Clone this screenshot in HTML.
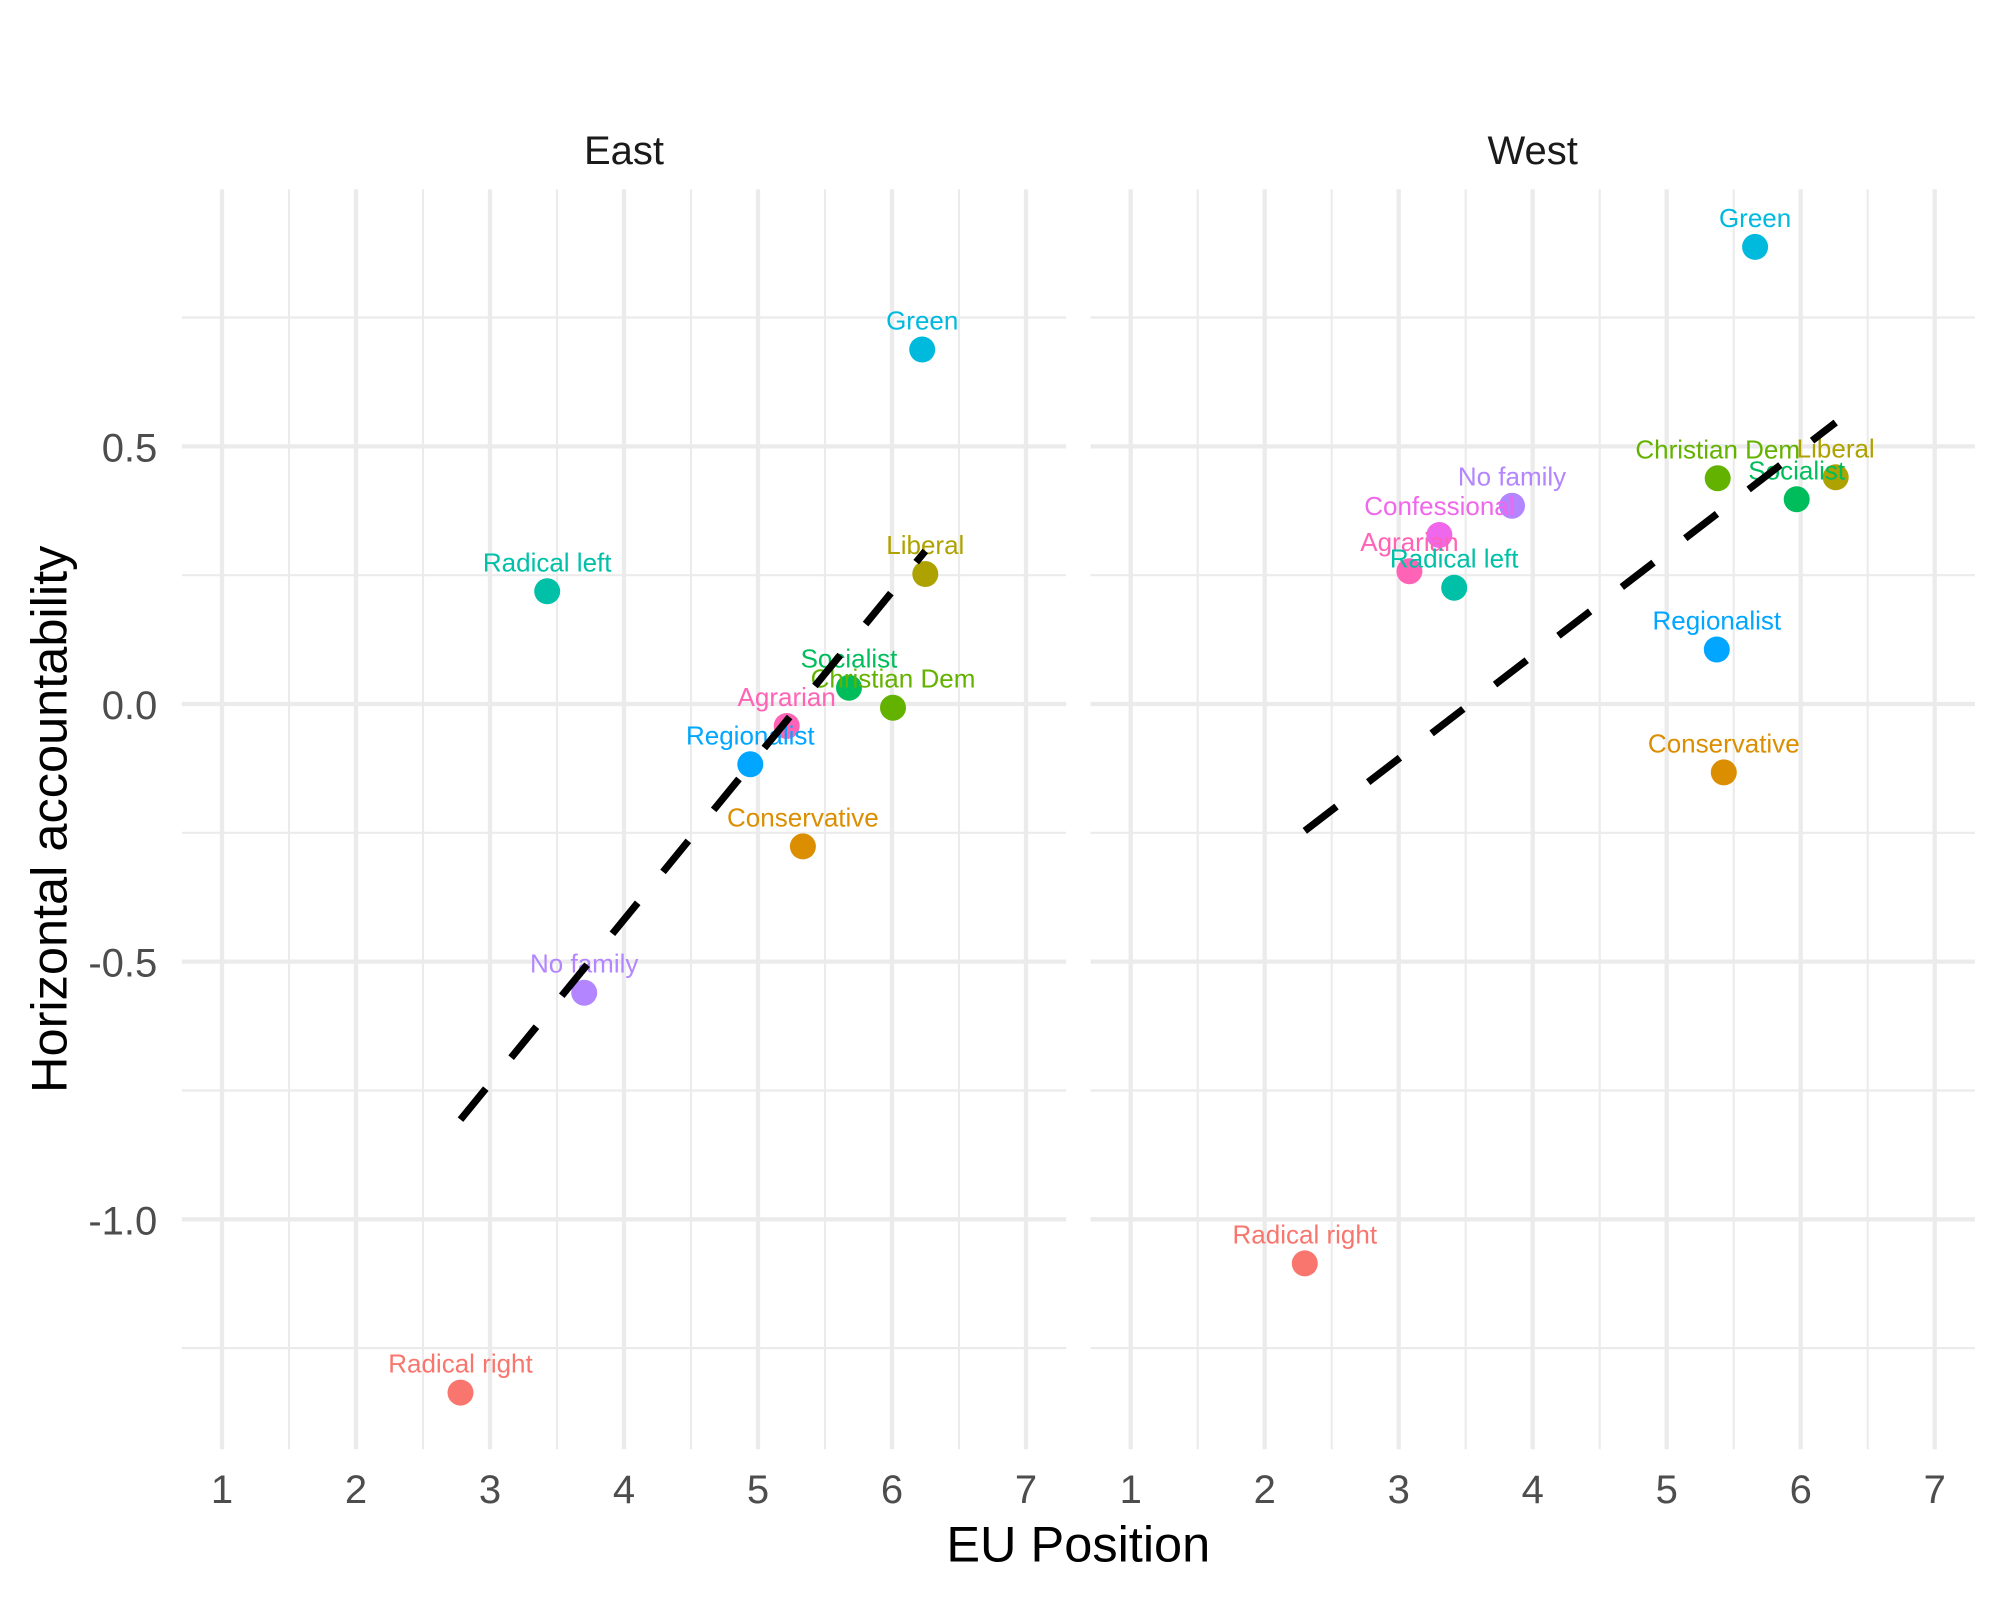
<!DOCTYPE html>
<html>
<head>
<meta charset="utf-8">
<style>
  html, body { margin: 0; padding: 0; background: #ffffff; }
  svg { display: block; }
  text { font-family: "Liberation Sans", Arial, Helvetica, sans-serif; }
</style>
</head>
<body>
<svg width="2000" height="1599" viewBox="0 0 2000 1599" xmlns="http://www.w3.org/2000/svg">
  <rect x="0" y="0" width="2000" height="1599" fill="#ffffff"/>

  <!-- ===== EAST PANEL GRID ===== -->
  <g stroke="#EBEBEB" fill="none">
    <g stroke-width="2.15">
      <line x1="181.8" y1="317.5" x2="1066.2" y2="317.5"/>
      <line x1="181.8" y1="575.2" x2="1066.2" y2="575.2"/>
      <line x1="181.8" y1="832.8" x2="1066.2" y2="832.8"/>
      <line x1="181.8" y1="1090.5" x2="1066.2" y2="1090.5"/>
      <line x1="181.8" y1="1348.1" x2="1066.2" y2="1348.1"/>
      <line x1="289" y1="189.3" x2="289" y2="1449.3"/>
      <line x1="423" y1="189.3" x2="423" y2="1449.3"/>
      <line x1="557" y1="189.3" x2="557" y2="1449.3"/>
      <line x1="691" y1="189.3" x2="691" y2="1449.3"/>
      <line x1="825" y1="189.3" x2="825" y2="1449.3"/>
      <line x1="959" y1="189.3" x2="959" y2="1449.3"/>
    </g>
    <g stroke-width="4.3">
      <line x1="181.8" y1="446.35" x2="1066.2" y2="446.35"/>
      <line x1="181.8" y1="704" x2="1066.2" y2="704"/>
      <line x1="181.8" y1="961.65" x2="1066.2" y2="961.65"/>
      <line x1="181.8" y1="1219.3" x2="1066.2" y2="1219.3"/>
      <line x1="222" y1="189.3" x2="222" y2="1449.3"/>
      <line x1="356" y1="189.3" x2="356" y2="1449.3"/>
      <line x1="490" y1="189.3" x2="490" y2="1449.3"/>
      <line x1="624" y1="189.3" x2="624" y2="1449.3"/>
      <line x1="758" y1="189.3" x2="758" y2="1449.3"/>
      <line x1="892" y1="189.3" x2="892" y2="1449.3"/>
      <line x1="1026" y1="189.3" x2="1026" y2="1449.3"/>
    </g>
  </g>

  <!-- ===== WEST PANEL GRID ===== -->
  <g stroke="#EBEBEB" fill="none">
    <g stroke-width="2.15">
      <line x1="1090.5" y1="317.5" x2="1974.9" y2="317.5"/>
      <line x1="1090.5" y1="575.2" x2="1974.9" y2="575.2"/>
      <line x1="1090.5" y1="832.8" x2="1974.9" y2="832.8"/>
      <line x1="1090.5" y1="1090.5" x2="1974.9" y2="1090.5"/>
      <line x1="1090.5" y1="1348.1" x2="1974.9" y2="1348.1"/>
      <line x1="1197.7" y1="189.3" x2="1197.7" y2="1449.3"/>
      <line x1="1331.7" y1="189.3" x2="1331.7" y2="1449.3"/>
      <line x1="1465.7" y1="189.3" x2="1465.7" y2="1449.3"/>
      <line x1="1599.7" y1="189.3" x2="1599.7" y2="1449.3"/>
      <line x1="1733.7" y1="189.3" x2="1733.7" y2="1449.3"/>
      <line x1="1867.7" y1="189.3" x2="1867.7" y2="1449.3"/>
    </g>
    <g stroke-width="4.3">
      <line x1="1090.5" y1="446.35" x2="1974.9" y2="446.35"/>
      <line x1="1090.5" y1="704" x2="1974.9" y2="704"/>
      <line x1="1090.5" y1="961.65" x2="1974.9" y2="961.65"/>
      <line x1="1090.5" y1="1219.3" x2="1974.9" y2="1219.3"/>
      <line x1="1130.7" y1="189.3" x2="1130.7" y2="1449.3"/>
      <line x1="1264.7" y1="189.3" x2="1264.7" y2="1449.3"/>
      <line x1="1398.7" y1="189.3" x2="1398.7" y2="1449.3"/>
      <line x1="1532.7" y1="189.3" x2="1532.7" y2="1449.3"/>
      <line x1="1666.7" y1="189.3" x2="1666.7" y2="1449.3"/>
      <line x1="1800.7" y1="189.3" x2="1800.7" y2="1449.3"/>
      <line x1="1934.7" y1="189.3" x2="1934.7" y2="1449.3"/>
    </g>
  </g>

  <!-- ===== STRIP LABELS ===== -->
  <g font-size="40" fill="#1A1A1A" text-anchor="middle">
    <text x="624" y="163.8">East</text>
    <text x="1532.7" y="163.8">West</text>
  </g>

  <!-- ===== Y TICK LABELS ===== -->
  <g font-size="40" fill="#4D4D4D" text-anchor="end">
    <text x="157.3" y="461.3">0.5</text>
    <text x="157.3" y="719">0.0</text>
    <text x="157.3" y="976.7">-0.5</text>
    <text x="157.3" y="1234.3">-1.0</text>
  </g>

  <!-- ===== X TICK LABELS ===== -->
  <g font-size="40" fill="#4D4D4D" text-anchor="middle">
    <text x="222" y="1502.8">1</text>
    <text x="356" y="1502.8">2</text>
    <text x="490" y="1502.8">3</text>
    <text x="624" y="1502.8">4</text>
    <text x="758" y="1502.8">5</text>
    <text x="892" y="1502.8">6</text>
    <text x="1026" y="1502.8">7</text>
    <text x="1130.7" y="1502.8">1</text>
    <text x="1264.7" y="1502.8">2</text>
    <text x="1398.7" y="1502.8">3</text>
    <text x="1532.7" y="1502.8">4</text>
    <text x="1666.7" y="1502.8">5</text>
    <text x="1800.7" y="1502.8">6</text>
    <text x="1934.7" y="1502.8">7</text>
  </g>

  <!-- ===== AXIS TITLES ===== -->
  <text x="1078.3" y="1561.7" font-size="50.5" fill="#000000" text-anchor="middle">EU Position</text>
  <text transform="translate(66.7,819.3) rotate(-90)" font-size="50.5" fill="#000000" text-anchor="middle">Horizontal accountability</text>

  <!-- ===== EAST POINTS ===== -->
  <g>
    <circle cx="786.7" cy="726" r="13" fill="#FF63B6"/>
    <circle cx="893" cy="707.7" r="13" fill="#64B200"/>
    <circle cx="802.9" cy="846.4" r="13" fill="#DB8E00"/>
    <circle cx="922.2" cy="349.5" r="13" fill="#00BADE"/>
    <circle cx="925.3" cy="574" r="13" fill="#AEA200"/>
    <circle cx="584.2" cy="992.7" r="13" fill="#B385FF"/>
    <circle cx="547.2" cy="591.3" r="13" fill="#00C1A7"/>
    <circle cx="460.5" cy="1392.6" r="13" fill="#F8766D"/>
    <circle cx="750.3" cy="764.3" r="13" fill="#00A6FF"/>
    <circle cx="849" cy="687.7" r="13" fill="#00BD5C"/>
  </g>

  <!-- ===== WEST POINTS ===== -->
  <g>
    <circle cx="1409.4" cy="571.2" r="13" fill="#FF63B6"/>
    <circle cx="1717.7" cy="478.3" r="13" fill="#64B200"/>
    <circle cx="1439.4" cy="535" r="13" fill="#EF67EB"/>
    <circle cx="1723.8" cy="772.4" r="13" fill="#DB8E00"/>
    <circle cx="1755.1" cy="246.9" r="13" fill="#00BADE"/>
    <circle cx="1835.7" cy="477.3" r="13" fill="#AEA200"/>
    <circle cx="1512" cy="505.7" r="13" fill="#B385FF"/>
    <circle cx="1454.2" cy="587.7" r="13" fill="#00C1A7"/>
    <circle cx="1304.8" cy="1263.4" r="13" fill="#F8766D"/>
    <circle cx="1716.8" cy="649.5" r="13" fill="#00A6FF"/>
    <circle cx="1796.7" cy="499.3" r="13" fill="#00BD5C"/>
  </g>

  <!-- ===== EAST LABELS ===== -->
  <g font-size="26" text-anchor="middle">
    <text x="786.7" y="706" fill="#FF63B6">Agrarian</text>
    <text x="893" y="687.7" fill="#64B200">Christian Dem</text>
    <text x="802.9" y="826.6" fill="#DB8E00">Conservative</text>
    <text x="922.2" y="329.5" fill="#00BADE">Green</text>
    <text x="925.3" y="554" fill="#AEA200">Liberal</text>
    <text x="584.2" y="972.7" fill="#B385FF">No family</text>
    <text x="547.2" y="571.3" fill="#00C1A7">Radical left</text>
    <text x="460.5" y="1372.6" fill="#F8766D">Radical right</text>
    <text x="750.3" y="744.6" fill="#00A6FF">Regionalist</text>
    <text x="849" y="667.7" fill="#00BD5C">Socialist</text>
  </g>

  <!-- ===== WEST LABELS ===== -->
  <g font-size="26" text-anchor="middle">
    <text x="1409.4" y="551.2" fill="#FF63B6">Agrarian</text>
    <text x="1717.7" y="458.3" fill="#64B200">Christian Dem</text>
    <text x="1439.4" y="515" fill="#EF67EB">Confessional</text>
    <text x="1723.8" y="752.4" fill="#DB8E00">Conservative</text>
    <text x="1755.1" y="226.9" fill="#00BADE">Green</text>
    <text x="1835.7" y="457.3" fill="#AEA200">Liberal</text>
    <text x="1512" y="485.7" fill="#B385FF">No family</text>
    <text x="1454.2" y="567.7" fill="#00C1A7">Radical left</text>
    <text x="1304.8" y="1243.4" fill="#F8766D">Radical right</text>
    <text x="1716.8" y="629.5" fill="#00A6FF">Regionalist</text>
    <text x="1796.7" y="479.3" fill="#00BD5C">Socialist</text>
  </g>

  <!-- ===== REGRESSION LINES ===== -->
  <line x1="460.5" y1="1119.6" x2="925.3" y2="551.0" stroke="#000000" stroke-width="7.2" stroke-dasharray="40 40" stroke-linecap="butt"/>
  <line x1="1304.8" y1="830.9" x2="1835.7" y2="422.5" stroke="#000000" stroke-width="7.2" stroke-dasharray="40 40" stroke-linecap="butt"/>
</svg>
</body>
</html>
